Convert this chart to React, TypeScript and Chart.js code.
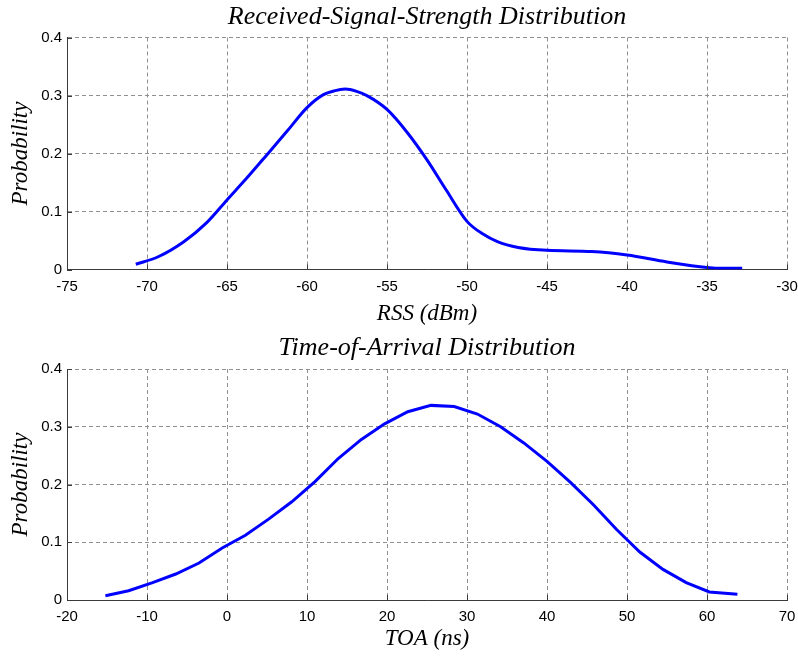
import React, { useEffect, useRef } from "react";
import { Chart, registerables } from "chart.js";

Chart.register(...registerables);

// ---- Data: Received-Signal-Strength distribution ----
const rssX = [-70.7, -69.3, -67.7, -66.3, -65, -63.75, -62.5, -61.2, -60, -59, -58.3, -57.6, -56.9, -56.2, -55, -53.7, -52.5, -51.3, -50, -49, -48.1, -46.8, -45, -42.2, -40, -37.5, -35, -34, -32.8];
const rssP = [0.009, 0.022, 0.048, 0.08, 0.12, 0.158, 0.198, 0.24, 0.279, 0.301, 0.308, 0.311, 0.307, 0.299, 0.276, 0.235, 0.189, 0.137, 0.083, 0.061, 0.048, 0.038, 0.033, 0.031, 0.025, 0.013, 0.0035, 0.002, 0.002];

// ---- Data: Time-of-Arrival distribution ----
const toaX = [-15.2, -12.3, -9.3, -6.4, -3.5, -0.6, 2.3, 5.2, 8.1, 11.0, 13.9, 16.8, 19.7, 22.6, 25.5, 28.4, 31.3, 34.2, 37.1, 40.0, 42.9, 45.8, 48.7, 51.6, 54.5, 57.4, 60.3, 63.8];
const toaP = [0.0075, 0.016, 0.03, 0.045, 0.064, 0.09, 0.112, 0.14, 0.17, 0.205, 0.245, 0.278, 0.305, 0.326, 0.337, 0.335, 0.322, 0.3, 0.272, 0.24, 0.204, 0.165, 0.122, 0.083, 0.053, 0.03, 0.014, 0.01];

const rssTitle = "Received-Signal-Strength Distribution";
const rssXLabel = "RSS (dBm)";
const toaTitle = "Time-of-Arrival Distribution";
const toaXLabel = "TOA (ns)";
const yLabel = "Probability";

const rssRange = { min: -75, max: -30, step: 5 };
const toaRange = { min: -20, max: 70, step: 10 };
const yRange = { min: 0, max: 0.4, step: 0.1 };

const W = 798;
const H = 328;

type Geo = {
  titleTop: number;
  titleBottom: number;
  xAxisHeight: number;
  xTitleBottom: number;
  smooth: boolean;
};

const inwardTicks = {
  id: "inwardTicks",
  afterDatasetsDraw: (chart: any) => {
    const { ctx, chartArea } = chart;
    const xs = chart.scales.x;
    const ys = chart.scales.y;
    ctx.save();
    ctx.strokeStyle = "#3a3a3a";
    ctx.lineWidth = 1;
    ctx.beginPath();
    xs.ticks.forEach((t: any) => {
      const px = Math.round(xs.getPixelForValue(t.value)) + 0.5;
      ctx.moveTo(px, chartArea.bottom);
      ctx.lineTo(px, chartArea.bottom - 5);
    });
    ys.ticks.forEach((t: any) => {
      const py = Math.round(ys.getPixelForValue(t.value)) + 0.5;
      ctx.moveTo(chartArea.left, py);
      ctx.lineTo(chartArea.left + 5, py);
    });
    ctx.stroke();
    ctx.restore();
  },
};

function makeConfig(
  xs: number[],
  ys: number[],
  title: string,
  xLabel: string,
  range: { min: number; max: number; step: number },
  geo: Geo
): any {
  const gridColor = "#909090";
  const axisColor = "#3a3a3a";
  const tickFont = { family: "'Liberation Sans', Arial, sans-serif", size: 15 };
  const serifItalic = (size: number) => ({
    family: "'Liberation Serif', 'Times New Roman', serif",
    size,
    style: "italic" as const,
    weight: "normal" as const,
    lineHeight: 1.2,
  });
  return {
    type: "line",
    data: {
      datasets: [
        {
          data: xs.map((x, i) => ({ x, y: ys[i] })),
          borderColor: "#0000ff",
          borderWidth: 3,
          pointRadius: 0,
          tension: 0,
          cubicInterpolationMode: geo.smooth ? "monotone" : "default",
          fill: false,
        },
      ],
    },
    options: {
      responsive: false,
      animation: false,
      devicePixelRatio: 1,
      layout: { padding: { left: 0, right: 11, top: 0, bottom: 0 } },
      plugins: {
        legend: { display: false },
        tooltip: { enabled: false },
        title: {
          display: true,
          fullSize: false,
          text: title,
          color: "#000",
          font: serifItalic(26),
          padding: { top: geo.titleTop, bottom: geo.titleBottom },
        },
      },
      scales: {
        x: {
          type: "linear",
          min: range.min,
          max: range.max,
          afterFit: (s: any) => {
            s.height = geo.xAxisHeight;
            s.paddingLeft = 0;
            s.paddingRight = 0;
          },
          ticks: {
            stepSize: range.step,
            autoSkip: false,
            maxRotation: 0,
            color: "#000",
            font: tickFont,
            padding: 8,
          },
          grid: {
            color: gridColor,
            lineWidth: 1,
            drawTicks: false,
          },
          border: { display: true, color: axisColor, width: 1, dash: [4, 3] },
          title: {
            display: true,
            text: xLabel,
            color: "#000",
            font: serifItalic(23),
            padding: { top: 0, bottom: geo.xTitleBottom },
          },
        },
        y: {
          type: "linear",
          min: yRange.min,
          max: yRange.max,
          afterFit: (s: any) => {
            s.width = 67;
            s.paddingTop = 0;
            s.paddingBottom = 0;
          },
          ticks: {
            stepSize: yRange.step,
            color: "#000",
            font: tickFont,
            padding: 5,
          },
          grid: {
            color: gridColor,
            lineWidth: 1,
            drawTicks: false,
          },
          border: { display: true, color: axisColor, width: 1, dash: [4, 3] },
          title: {
            display: true,
            text: yLabel,
            color: "#000",
            font: serifItalic(23),
            padding: { top: 7, bottom: 0 },
          },
        },
      },
    },
    plugins: [inwardTicks],
  };
}

function Plot(props: { cfg: any; top: number }) {
  const ref = useRef<HTMLCanvasElement | null>(null);
  useEffect(() => {
    if (!ref.current) return;
    const chart = new Chart(ref.current, props.cfg);
    return () => chart.destroy();
  }, []);
  return (
    <canvas
      ref={ref}
      width={W}
      height={H}
      style={{ position: "absolute", left: 0, top: props.top, width: W, height: H }}
    />
  );
}

export default function App() {
  const topCfg = makeConfig(rssX, rssP, rssTitle, rssXLabel, rssRange, {
    titleTop: 2,
    titleBottom: 4.3,
    xAxisHeight: 58.5,
    xTitleBottom: 0,
    smooth: true,
  });
  const botCfg = makeConfig(toaX, toaP, toaTitle, toaXLabel, toaRange, {
    titleTop: 4.4,
    titleBottom: 5.4,
    xAxisHeight: 56,
    xTitleBottom: 3.2,
    smooth: false,
  });
  return (
    <div
      style={{
        position: "fixed",
        left: 0,
        top: 0,
        width: W,
        height: 656,
        background: "#fff",
        overflow: "hidden",
      }}
    >
      <Plot cfg={topCfg} top={0} />
      <Plot cfg={botCfg} top={328} />
    </div>
  );
}
